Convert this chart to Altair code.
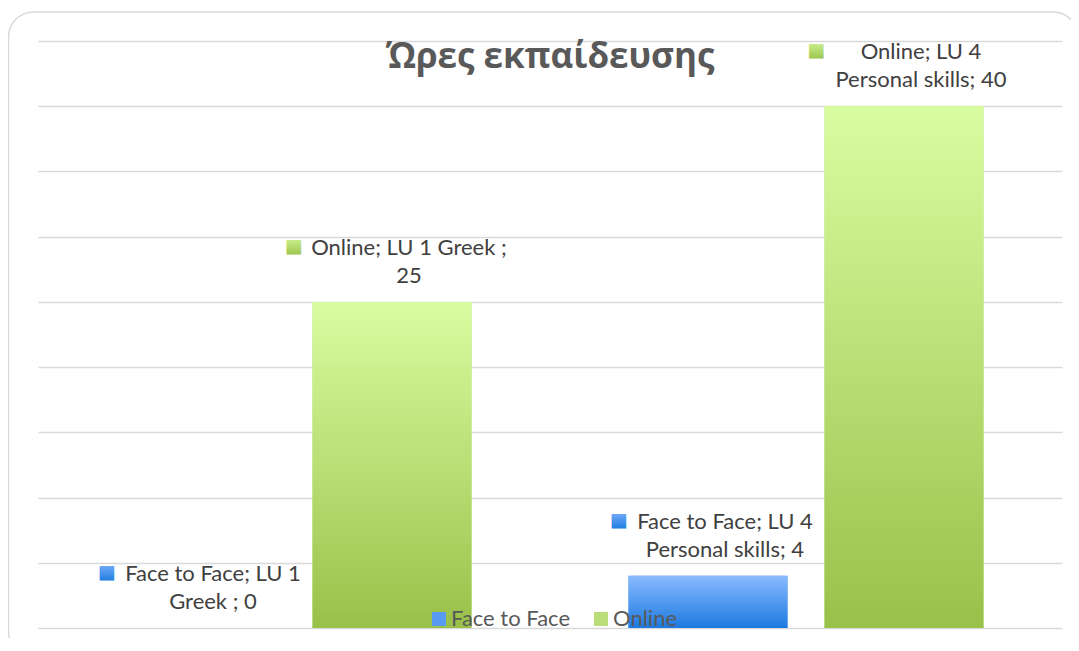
import textwrap
import altair as alt
import pandas as pd

# ---- data ----
title_text = "Ώρες εκπαίδευσης"
categories = ["LU 1 Greek ", "LU 4 Personal skills"]
series_names = ["Face to Face", "Online"]
face_to_face = [0, 4]
online = [25, 40]
y_ticks = [0, 5, 10, 15, 20, 25, 30, 35, 40, 45]

# ---- styles ----
LABEL_FONT = "Lato"
LABEL_SIZE = 22
TEXT_GREY = "#404040"
LEGEND_GREY = "#595959"
GRID = "#D9D9D9"

blue_grad = alt.LinearGradient(
    gradient="linear", x1=0, y1=0, x2=0, y2=1,
    stops=[alt.GradientStop(color="#8BBAFF", offset=0),
           alt.GradientStop(color="#1C7AE0", offset=1)])
green_grad = alt.LinearGradient(
    gradient="linear", x1=0, y1=0, x2=0, y2=1,
    stops=[alt.GradientStop(color="#D8FDA1", offset=0),
           alt.GradientStop(color="#99C149", offset=1)])
grads = {"Face to Face": blue_grad, "Online": green_grad}
solid = ["#5A9BF2", "#BADD7A"]

# rough Lato advance widths (em) for placing the label key squares
LATO = {' ': 0.193, 'F': 0.535, 'a': 0.49, 'c': 0.455, 'e': 0.515, 't': 0.33,
        'o': 0.545, ';': 0.25, 'L': 0.48, 'U': 0.70, 'G': 0.70, 'r': 0.36,
        'k': 0.50, 'O': 0.77, 'n': 0.54, 'l': 0.235, 'i': 0.235, 'P': 0.595,
        's': 0.405, 'K': 0.6}


def text_w(s):
    return sum(LATO.get(ch, 0.58) for ch in s) * LABEL_SIZE


rows = []
for s, vals in zip(series_names, [face_to_face, online]):
    for c, v in zip(categories, vals):
        lines = textwrap.wrap(f"{s}; {c}; {v}", 20)
        rows.append(dict(category=c, series=s, value=v,
                         label="\n".join(lines),
                         maxw=max(text_w(l) for l in lines)))
df = pd.DataFrame(rows)

W, H = 1024, 587

x_enc = alt.X("category:N", scale=alt.Scale(domain=categories, paddingInner=0, paddingOuter=0), axis=None)
xo_enc = alt.XOffset("series:N", scale=alt.Scale(domain=series_names, paddingInner=0.1888, paddingOuter=0.4005))
y_enc = alt.Y("value:Q", scale=alt.Scale(domain=[0, 45], nice=False, zero=True),
              axis=alt.Axis(values=y_ticks, labels=False, ticks=False, domain=False,
                            grid=True, gridColor=GRID, gridWidth=1.4, title=None))

base = alt.Chart(df)
single = alt.Chart(pd.DataFrame({"title": [title_text]}))

frame = single.mark_rect(
    filled=False, stroke=GRID, strokeWidth=1.5, cornerRadius=25, clip=False
).encode(x=alt.value(-29.5), x2=alt.value(1040), y=alt.value(-29), y2=alt.value(615))

title_mark = single.mark_text(
    font="Open Sans", fontSize=35, fontWeight="bold", color=LEGEND_GREY,
    align="center", baseline="alphabetic"
).encode(x=alt.value(W / 2), y=alt.value(27), text="title:N")

bars_solid = base.mark_bar().encode(
    x=x_enc, xOffset=xo_enc, y=y_enc,
    color=alt.Color("series:N", scale=alt.Scale(domain=series_names, range=solid),
                    legend=alt.Legend(orient="none", legendX=390, legendY=567,
                                      direction="horizontal", title=None,
                                      symbolType="square", symbolSize=196,
                                      symbolStrokeWidth=0, labelFont=LABEL_FONT,
                                      labelFontSize=LABEL_SIZE, labelColor=LEGEND_GREY,
                                      labelOffset=1, columnPadding=19, padding=0)))

layers = [frame, bars_solid]
for s in series_names:
    layers.append(base.transform_filter(alt.datum.series == s).mark_bar(color=grads[s]).encode(
        x=x_enc, xOffset=xo_enc, y="value:Q"))

labels = base.mark_text(
    align="center", baseline="middle", dx=17, dy=-54, lineBreak="\n", lineHeight=28,
    font=LABEL_FONT, fontSize=LABEL_SIZE, color=TEXT_GREY
).encode(x=x_enc, xOffset=xo_enc, y="value:Q", text="label:N")
layers.append(labels)

for r in rows:
    layers.append(
        base.transform_filter((alt.datum.series == r["series"]) & (alt.datum.category == r["category"]))
        .mark_text(text="■", align="center", baseline="middle",
                   dx=15 - r["maxw"] / 2 - 20, dy=-56, font="DejaVu Sans", fontSize=19,
                   color=grads[r["series"]])
        .encode(x=x_enc, xOffset=xo_enc, y="value:Q"))

layers.append(title_mark)

chart = alt.layer(*layers).properties(
    width=W, height=H,
    autosize=alt.AutoSizeParams(type="none"),
    padding={"left": 30, "top": 33, "right": 9, "bottom": 10},
).configure_view(stroke=None)

chart.save("out.html", embed_options={"renderer": "svg", "actions": False})
